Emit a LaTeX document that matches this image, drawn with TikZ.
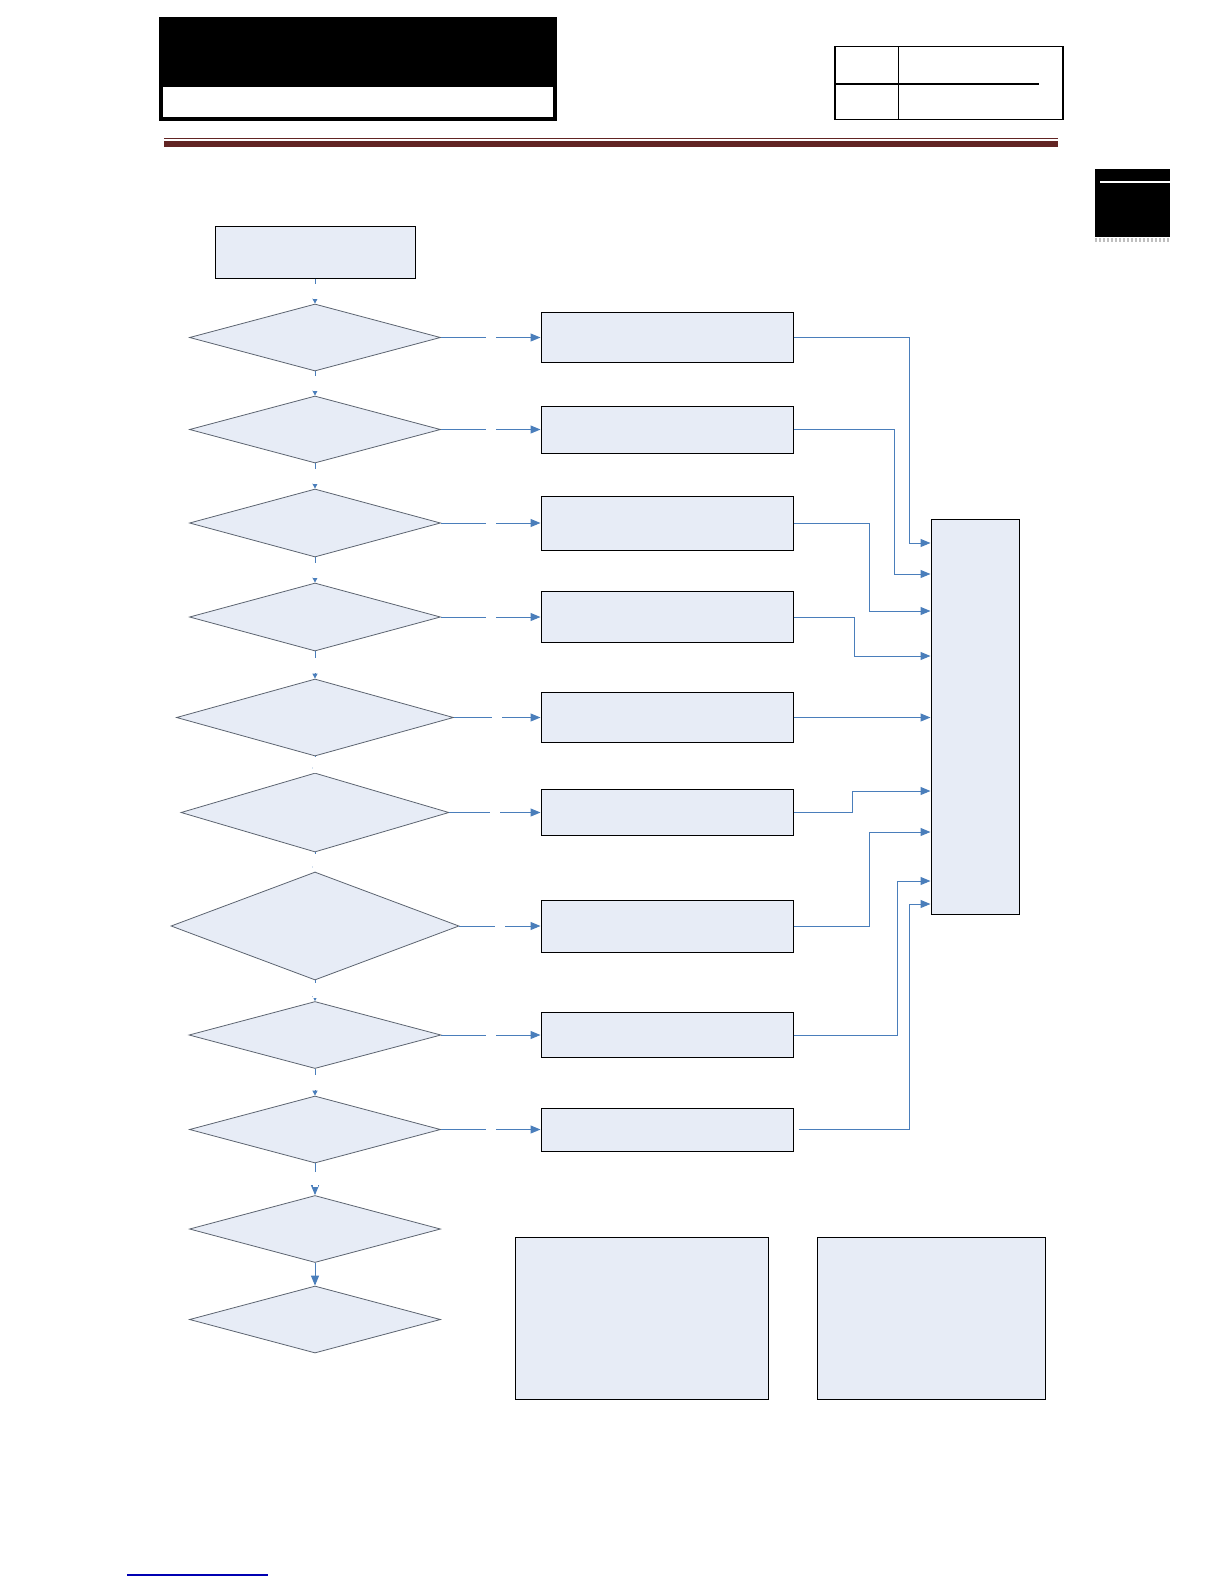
\documentclass[tikz,border=0pt]{standalone}
\usepackage{tikz}
\usetikzlibrary{positioning}
\usetikzlibrary{shapes,arrows,arrows.meta}
\definecolor{boxfill}{RGB}{231,236,246}
\definecolor{linkblue}{RGB}{74,126,187}
\definecolor{rimgray}{RGB}{92,100,112}
\definecolor{rulered}{RGB}{98,36,35}
\tikzstyle{decision} = [diamond, draw=rimgray, fill=boxfill, line width=0.8pt,
    minimum width=251pt, minimum height=67pt, inner sep=0pt]
\tikzstyle{block} = [rectangle, draw, fill=boxfill, line width=1pt,
    minimum width=252pt, inner sep=0pt]
\tikzstyle{line} = [draw, linkblue, line width=1pt, -{Triangle[length=10pt,width=8pt]}]
\tikzstyle{flow} = [draw, linkblue, line width=0.9pt, -{Triangle[length=5pt,width=5pt]}]
\tikzstyle{bigflow} = [draw, linkblue, line width=1pt, -{Triangle[length=10pt,width=8pt]}]
\tikzstyle{hgap} = [fill=white, inner sep=0pt, minimum width=10pt, minimum height=5pt]
\tikzstyle{vgap} = [fill=white, inner sep=0pt, minimum width=5pt, minimum height=15pt]

\begin{document}
\begin{tikzpicture}[x=1pt, y=-1pt]
    \useasboundingbox (0,0) rectangle (1224,1584);
        % Page head
    \fill (158.5,17) rectangle (556.5,83);
    \draw [line width=4pt] (161,85) rectangle (554.5,119.5);
    \draw [line width=1.8pt] (835,46.5) rectangle (1063,119.5);
    \draw [line width=1.8pt] (898.5,46.5) -- (898.5,119.5);
    \draw [line width=1.8pt] (835,84) -- (1039,84);
    \fill [rulered] (164,137.7) rectangle (1058,139.3);
    \fill [rulered] (164,141) rectangle (1058,146.5);
    \fill (1095,169) rectangle (1170,237);
    \draw [white, line width=1.3pt] (1100,182) -- (1170,182);
    \draw [gray!50, line width=4pt, dash pattern=on 2pt off 2pt] (1095,239.5) -- (1170,239.5);
    \draw [blue!70!black, line width=1.2pt] (127,1575) -- (268,1575);
        % Nodes
    \coordinate (colB) at (667,0);
    \node [block, minimum width=200pt, minimum height=52pt] (start) at (315,252) {};
    \node [decision] (d1) at (315,337.5) {};
    \node [decision] (d2) at (315,429.5) {};
    \node [decision, minimum height=68pt] (d3) at (315,523) {};
    \node [decision, minimum height=68pt] (d4) at (315,617) {};
    \node [decision, minimum width=277pt, minimum height=77pt] (d5) at (315,717.5) {};
    \node [decision, minimum width=268pt, minimum height=79pt] (d6) at (315,812.5) {};
    \node [decision, minimum width=288pt, minimum height=108pt] (d7) at (315,926) {};
    \node [decision, minimum width=252pt] (d8) at (315,1035) {};
    \node [decision] (d9) at (315,1129.5) {};
    \node [decision] (d10) at (315,1229) {};
    \node [decision] (d11) at (315,1319.5) {};
    \node [block, minimum height=50pt] (b1) at (d1 -| colB) {};
    \node [block, minimum height=47pt] (b2) at (d2 -| colB) {};
    \node [block, minimum height=54pt] (b3) at (d3 -| colB) {};
    \node [block, minimum height=50.5pt] (b4) at (d4 -| colB) {};
    \node [block, minimum height=50pt] (b5) at (d5 -| colB) {};
    \node [block, minimum height=46.5pt] (b6) at (d6 -| colB) {};
    \node [block, minimum height=52pt] (b7) at (d7 -| colB) {};
    \node [block, minimum height=45pt] (b8) at (d8 -| colB) {};
    \node [block, minimum height=43pt] (b9) at (d9 -| colB) {};
    \node [block, minimum width=88pt, minimum height=395pt] (res) at (975,716.5) {};
    \node [block, minimum width=253pt, minimum height=162pt] (noteA) at (641.5,1318) {};
    \node [block, minimum width=228pt, minimum height=162pt] (noteB) at (931,1318) {};
    \coordinate (k1) at (909,543);
    \coordinate (k2) at (894,574);
    \coordinate (k3) at (869,611);
    \coordinate (k4) at (854,656);
    \coordinate (k6) at (852,791);
    \coordinate (k7) at (869,832);
    \coordinate (k8) at (897,881);
    \coordinate (k9) at (909,904);
        % Edges
    \path [flow] (start) -- node [vgap] {} (d1);
    \path [flow] (d1) -- node [vgap] {} (d2);
    \path [flow] (d2) -- node [vgap] {} (d3);
    \path [flow] (d3) -- node [vgap] {} (d4);
    \path [flow] (d4) -- node [vgap] {} (d5);
    \path [flow] (d5) -- node [vgap, minimum height=16pt] {} (d6);
    \path [flow] (d6) -- node [vgap, minimum height=17pt] {} (d7);
    \path [flow] (d7) -- node [vgap] {} (d8);
    \path [flow] (d8) -- node [vgap] {} (d9);
    \path [bigflow] (d9) -- node [vgap] {} (d10);
    \path [bigflow] (d10) -- (d11);
    \path [line] (d1) -- node [hgap] {} (b1);
    \path [line] (d2) -- node [hgap] {} (b2);
    \path [line] (d3) -- node [hgap] {} (b3);
    \path [line] (d4) -- node [hgap] {} (b4);
    \path [line] (d5) -- node [hgap] {} (b5);
    \path [line] (d6) -- node [hgap] {} (b6);
    \path [line] (d7) -- node [hgap] {} (b7);
    \path [line] (d8) -- node [hgap] {} (b8);
    \path [line] (d9) -- node [hgap] {} (b9);
    \path [line] (b1.east) -| (k1) -- (k1 -| res.west);
    \path [line] (b2.east) -| (k2) -- (k2 -| res.west);
    \path [line] (b3.east) -| (k3) -- (k3 -| res.west);
    \path [line] (b4.east) -| (k4) -- (k4 -| res.west);
    \path [line] (b5) -- (b5 -| res.west);
    \path [line] (b6.east) -| (k6) -- (k6 -| res.west);
    \path [line] (b7.east) -| (k7) -- (k7 -| res.west);
    \path [line] (b8.east) -| (k8) -- (k8 -| res.west);
    \path [line] ([xshift=5pt]b9.east) -| (k9) -- (k9 -| res.west);
\end{tikzpicture}
\end{document}
